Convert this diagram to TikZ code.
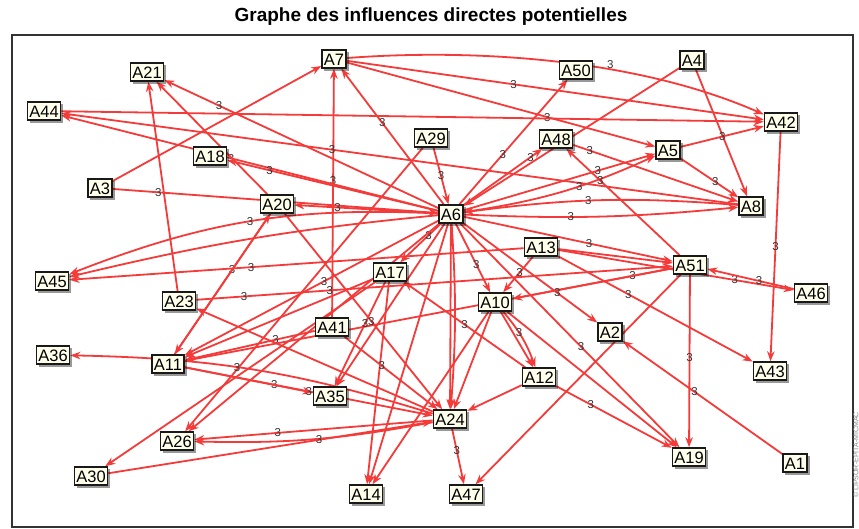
\documentclass[tikz,border=0pt]{standalone}
\usepackage{fontspec}
\setmainfont{Liberation Sans}
\usetikzlibrary{arrows.meta,shadows}
\definecolor{edgered}{RGB}{245,58,58}
\definecolor{boxfill}{RGB}{255,255,236}
\tikzset{
  var/.style={draw=black!90, line width=1.3pt, fill=boxfill, inner xsep=2pt, inner ysep=3pt,
    text height=12.2pt, text depth=0pt, font=\fontsize{16.5}{17}\selectfont,
    drop shadow={shadow xshift=2.5pt, shadow yshift=-2.5pt, fill=black, opacity=0.4}},
  infl/.style={draw=edgered, line width=1.8pt, -{Stealth[length=10pt,width=7.5pt]}},
  w/.style={font=\fontsize{11.5}{12}\selectfont, text=black!80, inner sep=0.5pt}
}
\begin{document}
\begin{tikzpicture}[x=1pt,y=-1pt]
\useasboundingbox (0,0) rectangle (859,529);
\fill[white] (0,0) rectangle (859,529);
\node[font=\bfseries\fontsize{19}{20}\selectfont] (title) at (431,17) {Graphe des influences directes potentielles};
\draw[line width=1.4pt, black!80] (12,35) rectangle (853,527);
\node[rotate=90, font=\fontsize{7}{8}\selectfont, text=black!45] (wm) at (856,455) {© LIPSOR-EPITA-MICMAC};

% positions of the variables (boxes are drawn last, above the arrows)
\path (147,72) coordinate (A21) (334,59) coordinate (A7) (576,70) coordinate (A50)
      (692,60) coordinate (A4) (44,111) coordinate (A44) (781,122) coordinate (A42)
      (431,138) coordinate (A29) (556,139) coordinate (A48) (668,150) coordinate (A5)
      (210,156) coordinate (A18) (100,188) coordinate (A3) (277,204) coordinate (A20)
      (451,214) coordinate (A6) (751,206) coordinate (A8) (541,247) coordinate (A13)
      (690,265) coordinate (A51) (52,281) coordinate (A45) (390,272) coordinate (A17)
      (811,293) coordinate (A46) (179,301) coordinate (A23) (495,302) coordinate (A10)
      (332,327) coordinate (A41) (610,332) coordinate (A2) (53,355) coordinate (A36)
      (168,364) coordinate (A11) (770,371) coordinate (A43) (539,377) coordinate (A12)
      (330,396) coordinate (A35) (450,419) coordinate (A24) (177,441) coordinate (A26)
      (689,457) coordinate (A19) (795,463) coordinate (A1) (91,476) coordinate (A30)
      (366,494) coordinate (A14) (466,494) coordinate (A47);

% the boxes, first as invisible shapes so that arrows stop at their borders
\foreach \v in {A21,A7,A50,A4,A44,A42,A29,A48,A5,A18,A3,A20,A6,A8,A13,A51,A45,A17,
                A46,A23,A10,A41,A2,A36,A11,A43,A12,A35,A24,A26,A19,A1,A30,A14,A47}
  \node[inner xsep=2pt, inner ysep=3pt, text height=12.2pt, text depth=0pt,
        font=\fontsize{16.5}{17}\selectfont, line width=1.3pt, outer sep=0.65pt]
        (n\v) at (\v) {\phantom{\v}};

% influences
\draw[infl] (nA3) -- (nA7);
\draw[infl] (nA3) -- node[w,pos=.14]{3} (nA6);
\draw[infl] (nA7) .. controls (480,48) and (640,60) .. node[w,pos=.62,above]{3} (nA42);
\draw[infl] (nA7) -- node[w,pos=.4]{3} (nA42);
\draw[infl] (nA7) -- node[w,pos=.65]{3} (nA5);
\draw[infl] (nA6) -- node[w,pos=.6]{3} (nA7);
\draw[infl] (nA41) -- node[w,pos=.55]{3} (nA7);
\draw[infl] (nA44) -- (nA42);
\draw[infl] (nA6) -- node[w,pos=.55]{3} (nA44);
\draw[infl] (nA8) -- node[w,pos=.6]{3} (nA44);
\draw[infl] (nA6) -- node[w,pos=.8]{3} (nA21);
\draw[infl] (nA20) -- (nA21);
\draw[infl] (nA23) -- (nA21);
\draw[infl] (nA6) -- node[w,pos=.8]{3} (nA18);
\draw[infl] (nA29) -- node[w,pos=.5]{3} (nA6);
\draw[infl] (nA29) -- (nA26);
\draw[infl] (nA6) -- node[w,pos=.4]{3} (nA50);
\draw[infl] (nA4) -- (nA6);
\draw[infl] (nA4) -- (nA8);
\draw[infl] (nA6) -- node[w,pos=.85]{3} (nA48);
\draw[infl] (nA6) -- node[w,pos=.7]{3} (nA5);
\draw[infl] (nA6) to[bend right=8] node[w,pos=.6]{3} (nA5);
\draw[infl] (nA5) -- node[w,pos=.5]{3} (nA42);
\draw[infl] (nA5) -- node[w,pos=.6]{3} (nA8);
\draw[infl] (nA48) -- node[w,pos=.1]{3} (nA8);
\draw[infl] (nA42) -- node[w,pos=.5]{3} (nA43);
\draw[infl] (nA6) to[bend right=4] node[w,pos=.38]{3} (nA8);
\draw[infl] (nA8) to[bend right=6] node[w,pos=.55]{3} (nA6);
\draw[infl] (nA6) -- node[w,pos=.6]{3} (nA51);
\draw[infl] (nA51) -- node[w,pos=.7]{3} (nA48);
\draw[infl] (nA13) -- (nA51);
\draw[infl] (nA13) -- node[w,pos=.75]{3} (nA46);
\draw[infl] (nA46) -- node[w,pos=.4]{3} (nA51);
\draw[infl] (nA51) -- node[w,pos=.48]{3} (nA19);
\draw[infl] (nA1) -- node[w,pos=.55]{3} (nA2);
\draw[infl] (nA51) -- (nA47);
\draw[infl] (nA51) -- node[w,pos=.25]{3} (nA10);
\draw[infl] (nA51) -- (nA11);
\draw[infl] (nA13) -- node[w,pos=.36]{3} (nA43);
\draw[infl] (nA6) -- node[w,pos=.7]{3} (nA2);
\draw[infl] (nA6) -- node[w,pos=.55]{3} (nA19);
\draw[infl] (nA10) -- (nA19);
\draw[infl] (nA12) -- node[w,pos=.3]{3} (nA19);
\draw[infl] (nA10) -- (nA12);
\draw[infl] (nA10) to[bend left=10] node[w,pos=.4]{3} (nA12);
\draw[infl] (nA10) -- (nA24);
\draw[infl] (nA10) -- (nA14);
\draw[infl] (nA13) -- node[w,pos=.45]{3} (nA10);
\draw[infl] (nA6) -- node[w,pos=.6]{3} (nA10);
\draw[infl] (nA12) -- node[w,pos=.5]{3} (nA17);
\draw[infl] (nA12) -- (nA24);
\draw[infl] (nA17) -- (nA11);
\draw[infl] (nA17) -- node[w,pos=.4]{3} (nA35);
\draw[infl] (nA17) -- (nA14);
\draw[infl] (nA17) -- (nA30);
\draw[infl] (nA41) -- node[w,pos=.3]{3} (nA11);
\draw[infl] (nA41) -- node[w,pos=.4]{3} (nA24);
\draw[infl] (nA24) to[bend right=8] node[w,pos=.55]{3} (nA36);
\draw[infl] (nA24) -- node[w,pos=.65]{3} (nA26);
\draw[infl] (nA24) to[bend left=6] (nA26);
\draw[infl] (nA30) -- node[w,pos=.65]{3} (nA24);
\draw[infl] (nA11) -- node[w,pos=.7]{3} (nA35);
\draw[infl] (nA11) -- node[w,pos=.5]{3} (nA24);
\draw[infl] (nA24) -- node[w,pos=.4]{3} (nA47);
\draw[infl] (nA6) -- (nA24);
\draw[infl] (nA6) to[bend left=4] (nA24);
\draw[infl] (nA6) -- (nA14);
\draw[infl] (nA20) -- node[w,pos=.4]{3} (nA11);
\draw[infl] (nA11) -- (nA20);
\draw[infl] (nA20) -- node[w,pos=.55]{3} (nA24);
\draw[infl] (nA24) -- (nA23);
\draw[infl] (nA6) to[bend right=12] node[w,pos=.5]{3} (nA45);
\draw[infl] (nA6) to[bend right=4] (nA45);
\draw[infl] (nA13) -- node[w,pos=.6]{3} (nA45);
\draw[infl] (nA23) -- node[w,pos=.1]{3} node[w,pos=.28]{3} (nA51);
\draw[infl] (nA6) -- node[w,pos=.3]{3} (nA17);
\draw[infl] (nA6) -- (nA35);
\draw[infl] (nA6) -- node[w,pos=.45]{3} (nA11);
\draw[infl] (nA6) -- (nA26);
\draw[infl] (nA6) -- node[w,pos=.7]{3} (nA20);

% variables
\foreach \v in {A21,A7,A50,A4,A44,A42,A29,A48,A5,A18,A3,A20,A6,A8,A13,A51,A45,A17,
                A46,A23,A10,A41,A2,A36,A11,A43,A12,A35,A24,A26,A19,A1,A30,A14,A47}
  \node[var] (b\v) at (\v) {\v};
\end{tikzpicture}
\end{document}
